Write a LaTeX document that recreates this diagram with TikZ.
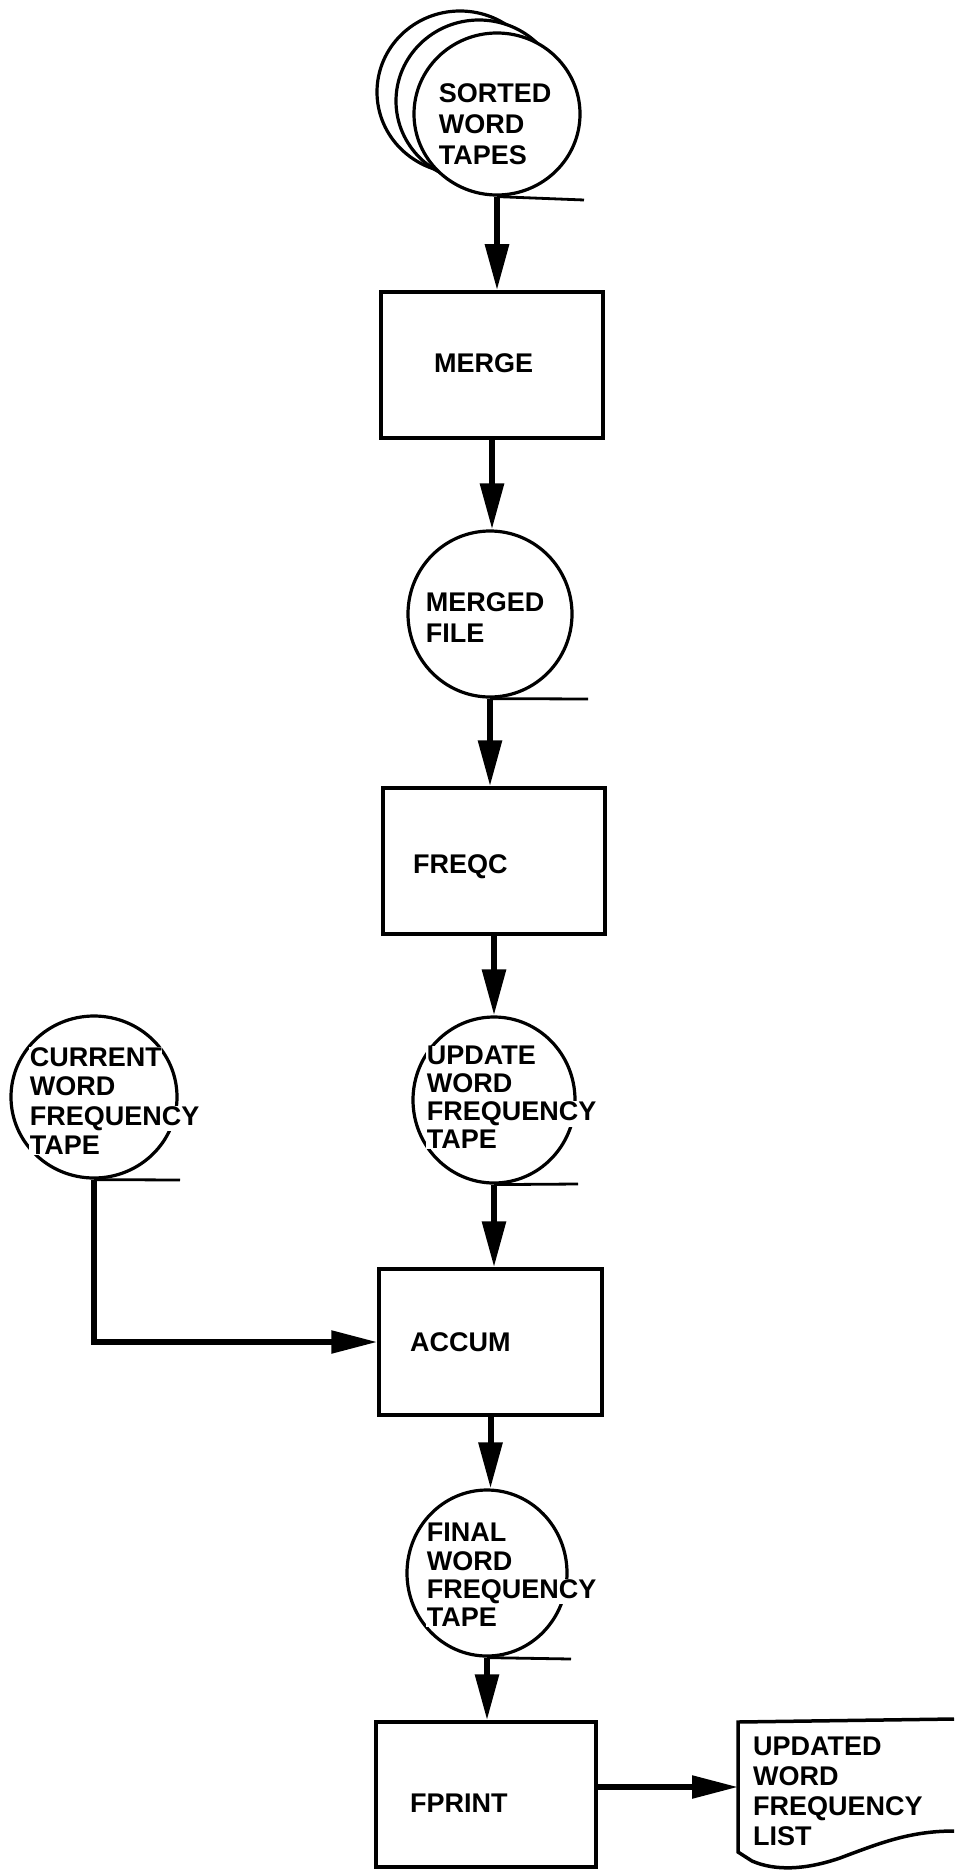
\documentclass[tikz,border=0pt]{standalone}
\usepackage{fontspec}
\setmainfont{Liberation Sans}
\usetikzlibrary{arrows.meta,shapes.geometric,calc}
\newcommand{\wl}[1]{{\setlength{\fboxsep}{0.6pt}\colorbox{white}{#1}}}
\begin{document}
\begin{tikzpicture}[x=1pt,y=-1pt,line join=miter,
  tape/.style={draw,ellipse,line width=3.2pt,fill=white,inner sep=0pt},
  procbox/.style={draw,rectangle,line width=3.5pt,inner sep=0pt},
  txt/.style={font=\fontsize{27}{#1}\selectfont\bfseries,align=left,inner sep=0pt,anchor=west},
  flow/.style={line width=6pt,-{Triangle[length=46pt,width=23pt]}},
  hflow/.style={line width=5.5pt,-{Triangle[length=46pt,width=22pt]}},
  tail/.style={line width=2.8pt}]
\fill[white] (0,0) rectangle (954,1870);
\useasboundingbox (0,0) rectangle (954,1870);

% tape reels
\node[tape,minimum width=166pt,minimum height=162pt] (back1) at (460,92) {};
\node[tape,minimum width=166pt,minimum height=162pt] (back2) at (479,101) {};
\node[tape,minimum width=166pt,minimum height=162pt] (sorted) at (497,114) {};
\node[tape,minimum width=164pt,minimum height=166pt] (merged) at (490,614) {};
\node[tape,minimum width=162pt,minimum height=166pt] (update) at (494,1100) {};
\node[tape,minimum width=166pt,minimum height=162pt] (current) at (94,1097) {};
\node[tape,minimum width=160pt,minimum height=166pt] (final) at (487,1573) {};

% tails
\coordinate (sortedtail) at (584,200);
\coordinate (mergedtail) at (588,699);
\coordinate (updatetail) at (578,1184);
\coordinate (currenttail) at (180,1180);
\coordinate (finaltail) at (571,1659);
\draw[tail] (sorted.south) -- (sortedtail);
\draw[tail] (merged.south) -- (mergedtail);
\draw[tail] (update.south) -- (updatetail);
\draw[tail] (current.south) -- (currenttail);
\draw[tail] (final.south) -- (finaltail);

% process boxes
\node[procbox,minimum width=222pt,minimum height=146pt] (merge) at (492,365) {};
\node[procbox,minimum width=222pt,minimum height=146pt] (freqc) at (494,861) {};
\node[procbox,minimum width=223pt,minimum height=146pt] (accum) at (490.5,1342) {};
\node[procbox,minimum width=220pt,minimum height=145pt] (fprint) at (486,1794.5) {};

% printed list
\draw[line width=3.5pt] (954,1719) -- (738,1722) -- (738,1852) -- (752,1861)
  .. controls (775,1871) and (805,1870) .. (840,1858)
  .. controls (880,1843) and (910,1831) .. (954,1831);
\coordinate (listin) at (738,1787);

% texts
\node[txt=31] (sortedt) at (438,124) {\wl{SORTED}\\\wl{WORD}\\\wl{TAPES}};
\node[txt=31] (mergedt) at (425,617.5) {\wl{MERGED}\\\wl{FILE}};
\node[txt=28] (updatet) at (426,1097.5) {\wl{UPDATE}\\\wl{WORD}\\\wl{FREQUENCY}\\\wl{TAPE}};
\node[txt=29.3] (currentt) at (29,1101) {\wl{CURRENT}\\\wl{WORD}\\\wl{FREQUENCY}\\\wl{TAPE}};
\node[txt=28.3] (finalt) at (426,1575) {\wl{FINAL}\\\wl{WORD}\\\wl{FREQUENCY}\\\wl{TAPE}};
\node[txt=30] (listt) at (753,1791.5) {UPDATED\\WORD\\FREQUENCY\\LIST};
\node[txt=30] (merget) at (434,363) {MERGE};
\node[txt=30] (freqct) at (413,867) {FREQC};
\node[txt=30] (accumt) at (410,1342) {ACCUM};
\node[txt=30] (fprintt) at (410,1803) {FPRINT};

% connectors
\draw[flow] (sorted.south) -- (sorted.south |- merge.north);
\draw[flow] (merge.south) -- (merge.south |- merged.north);
\draw[flow] (merged.south) -- (merged.south |- freqc.north);
\draw[flow] (freqc.south) -- (freqc.south |- update.north);
\draw[flow] (update.south) -- (update.south |- accum.north);
\draw[flow] (accum.south) -- (accum.south |- final.north);
\draw[flow] (final.south) -- (final.south |- fprint.north);
\draw[hflow] (current.south) |- (accum.west);
\draw[hflow] (fprint.east |- listin) -- (listin);
\end{tikzpicture}
\end{document}
